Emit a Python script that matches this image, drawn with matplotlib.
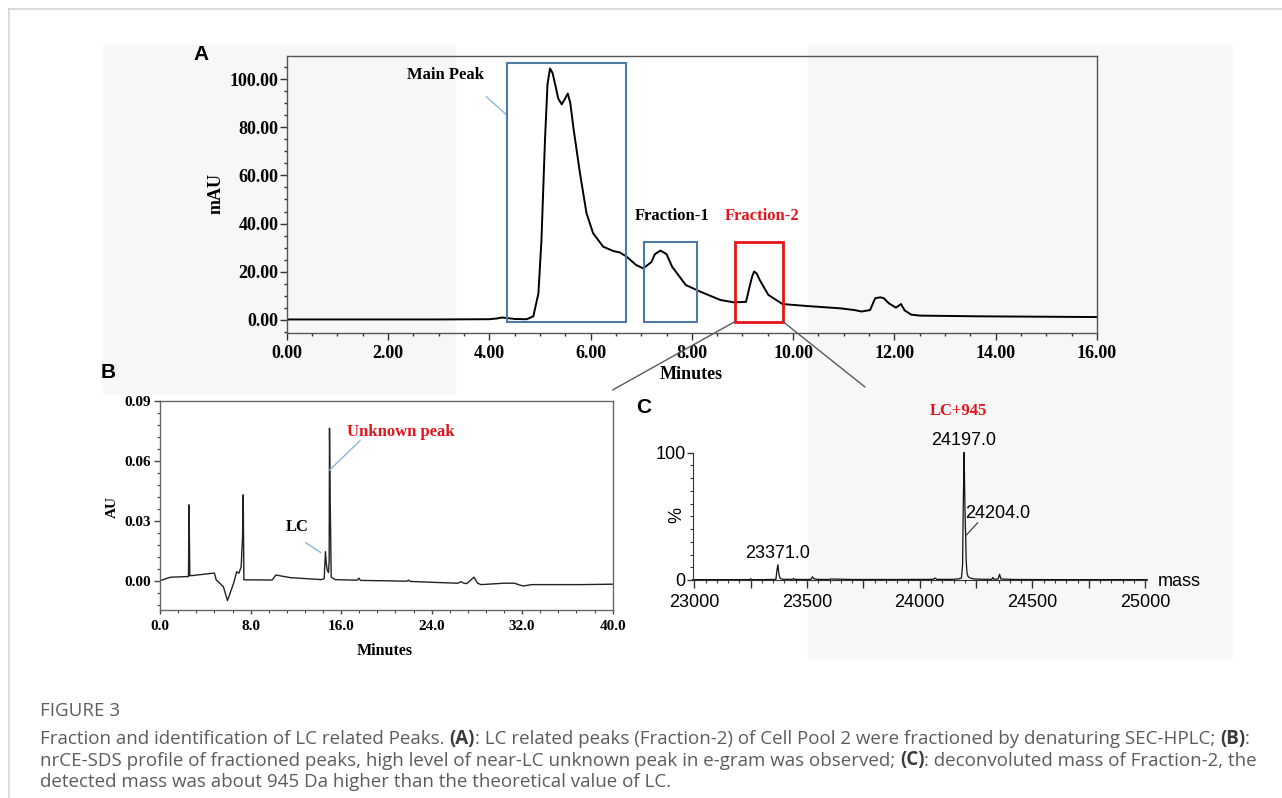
import matplotlib
matplotlib.use("Agg")
import matplotlib.pyplot as plt
from matplotlib.patches import Rectangle, ConnectionPatch
from matplotlib.lines import Line2D
from matplotlib.ticker import MultipleLocator

# ---- panel A : SEC-HPLC trace ----
a_minutes = [0.0, 1.0, 2.0, 3.0, 4.0, 4.15, 4.25, 4.35, 4.5, 4.74, 4.87, 4.97, 5.03, 5.10, 5.15,
             5.20, 5.25, 5.32, 5.36, 5.43, 5.50, 5.55, 5.60, 5.66, 5.79, 5.92, 6.05, 6.25, 6.45, 6.58,
             6.71, 6.90, 7.04, 7.20, 7.27, 7.38, 7.50, 7.61, 7.88, 8.16, 8.56, 8.83, 9.07, 9.14, 9.19,
             9.23, 9.28, 9.34, 9.51, 9.79, 10.26, 10.94, 11.21, 11.35, 11.52, 11.62, 11.72, 11.79,
             11.89, 12.03, 12.13, 12.20, 12.33, 12.50, 13.66, 15.97, 16.0]
a_mau = [0.2, 0.2, 0.2, 0.2, 0.3, 0.6, 1.0, 0.8, 0.4, 0.3, 1.5, 11.0, 33.0, 74.7, 98.0,
         104.4, 102.5, 96.0, 92.0, 89.5, 92.0, 94.0, 90.0, 80.0, 61.0, 44.3, 36.0, 30.4, 28.6, 28.0,
         26.3, 22.8, 21.4, 24.0, 27.3, 28.8, 27.3, 22.1, 14.5, 11.8, 8.3, 7.3, 7.5, 13.8, 18.0,
         20.1, 19.3, 16.6, 10.4, 6.6, 5.8, 4.8, 4.1, 3.5, 4.1, 9.0, 9.4, 9.0,
         6.9, 5.1, 6.6, 4.0, 2.2, 1.8, 1.5, 1.2, 1.2]
a_xticks = [0, 2, 4, 6, 8, 10, 12, 14, 16]
a_yticks = [0, 20, 40, 60, 80, 100]

box_names = ["Main Peak", "Fraction-1", "Fraction-2"]
box_start = [4.35, 7.06, 8.85]
box_end = [6.70, 8.11, 9.80]
box_top = [106.5, 32.5, 32.5]
box_bottom = -0.7

# ---- panel B : nrCE-SDS ----
b_minutes = [0.0, 0.9, 2.3, 2.50, 2.55, 2.62, 2.8, 4.65, 4.80, 4.95, 5.58, 5.95, 6.51, 6.76, 6.96,
             7.16, 7.28, 7.34, 7.40, 9.9, 10.23, 10.7, 11.5, 14.26, 14.5, 14.61, 14.70, 14.77, 14.88,
             14.94, 14.97, 15.03, 15.12, 15.48, 17.4, 17.57, 17.7, 20.1, 21.8, 21.95, 22.1, 24.77,
             26.32, 26.6, 26.8, 27.1, 27.75, 28.06, 28.37, 30.38, 31.3, 32.08, 32.86, 37.2, 40.0]
b_au = [0.0, 0.0017, 0.002, 0.002, 0.0379, 0.0025, 0.0025, 0.0037, 0.0037, 0.0004, -0.003, -0.010,
        -0.001, 0.0044, 0.0037, 0.007, 0.022, 0.0429, 0.0004, 0.0003, 0.0028, 0.0023, 0.0015, 0.0005,
        0.001, 0.0145, 0.008, 0.0053, 0.004, 0.010, 0.0762, 0.0405, 0.0017, 0.0005, 0.0002, 0.0012,
        0.0001, -0.0001, -0.0003, 0.0002, -0.0004, -0.001, -0.0013, -0.0005, -0.0012, -0.0015, 0.0017,
        -0.0013, -0.002, -0.0013, -0.0013, -0.0027, -0.002, -0.002, -0.0018]
b_xticks = [0, 8, 16, 24, 32, 40]
b_yticks = [0.0, 0.03, 0.06, 0.09]

# ---- panel C : deconvoluted mass ----
c_mass = [22993, 23100, 23200, 23245, 23250, 23255, 23300, 23362, 23367, 23371, 23375, 23380, 23390,
          23435, 23440, 23445, 23500, 23518, 23524, 23530, 23545, 23600, 23605, 23700, 23900, 24060,
          24068, 24076, 24140, 24170, 24185, 24190, 24194, 24197, 24200, 24202, 24204, 24206, 24210,
          24215, 24225, 24240, 24300, 24320, 24324, 24330, 24348, 24354, 24360, 24420, 24600, 24800,
          25008]
c_pct = [0.3, 0.3, 0.3, 0.3, 1.0, 0.3, 0.3, 0.5, 8, 12, 5, 1.5, 0.6,
         0.5, 1.2, 0.5, 0.4, 0.6, 2.5, 1.0, 0.5, 0.4, 0.8, 0.4, 0.4, 0.5,
         1.5, 0.5, 0.5, 0.8, 1.5, 12, 70, 100, 62, 45, 33, 15, 5,
         2.5, 1.5, 0.8, 0.5, 0.6, 2.0, 0.6, 0.8, 4.5, 0.8, 0.4, 0.3, 0.3,
         0.3]
c_xticks = list(range(23000, 25001, 250))

W, H = 1282, 798
plt.rcParams['font.family'] = 'Liberation Serif'
plt.rcParams['font.weight'] = 'bold'
SANS = 'Liberation Sans'
BLUE = '#4d7aa6'
LBLUE = '#8db6da'
RED = '#e3151b'

fig = plt.figure(figsize=(W / 100, H / 100), dpi=100)

def fx(x):
    return x / W

def fy(y):
    return 1 - y / H

# faint grey patches of the pasted images (behind everything)
for x0, y0, x1, y1 in [(103, 45, 455, 393), (808, 45, 1232, 658)]:
    fig.patches.append(Rectangle((fx(x0), fy(y1)), (x1 - x0) / W, (y1 - y0) / H,
                                 transform=fig.transFigure, color='#f7f7f7', zorder=-5))
fig.add_artist(Line2D([fx(9), 1], [fy(9), fy(9)], transform=fig.transFigure, color='#d4d4d4', lw=1.2))
fig.add_artist(Line2D([fx(9), fx(9)], [fy(9), 0], transform=fig.transFigure, color='#d4d4d4', lw=1.2))

# ---------------- A ----------------
axA = fig.add_axes([fx(286.7), fy(332.7), 810.3 / W, 277 / H])
axA.patch.set_alpha(0)
axA.plot(a_minutes, a_mau, color='black', lw=1.4)
axA.set_xlim(0, 16)
axA.set_ylim(-5.3, 109.7)
axA.set_xticks(a_xticks, labels=['%.2f' % v for v in a_xticks])
axA.set_yticks(a_yticks, labels=['%.2f' % v for v in a_yticks])
axA.xaxis.set_minor_locator(MultipleLocator(0.5))
axA.yaxis.set_minor_locator(MultipleLocator(5))
axA.tick_params(which='major', length=5, width=1, labelsize=13, color='#333333')
axA.tick_params(which='minor', length=2.5, width=1, color='#333333')
axA.tick_params(axis='x', pad=4)
axA.tick_params(axis='y', pad=1)
for s in axA.spines.values():
    s.set_color('#555555')
    s.set_linewidth(1)

for i in range(len(box_names)):
    col = RED if i == 2 else BLUE
    axA.add_patch(Rectangle((box_start[i], box_bottom), box_end[i] - box_start[i],
                            box_top[i] - box_bottom, fill=False, ec=col,
                            lw=2 if i == 2 else 1.5, zorder=3))
axA.text(3.14, 101.7, box_names[0], ha='center', va='center', fontsize=12)
axA.plot([3.94, box_start[0]], [92.7, 85.0], color=LBLUE, lw=1)
axA.text(7.61, 43.2, box_names[1], ha='center', va='center', fontsize=12)
axA.text(9.39, 43.2, box_names[2], ha='center', va='center', fontsize=12, color=RED)

fig.text(fx(691.6), fy(374.3), 'Minutes', ha='center', va='center', fontsize=13)
fig.text(fx(216), fy(193.3), 'mAU', ha='center', va='center', fontsize=13, rotation=90)

for xa, xb, yb in [(box_start[2], 612.6, 390), (box_end[2], 865, 387)]:
    con = ConnectionPatch(xyA=(xa, box_bottom), coordsA=axA.transData,
                          xyB=(xb, H - yb), coordsB='figure pixels',
                          color='#5a5a5a', lw=1)
    fig.add_artist(con)

# ---------------- B ----------------
axB = fig.add_axes([fx(160.2), fy(610), 452.4 / W, 209.3 / H])
axB.patch.set_alpha(0)
axB.plot(b_minutes, b_au, color='#222222', lw=1)
axB.set_xlim(0, 40)
axB.set_ylim(-0.0147, 0.09)
axB.set_xticks(b_xticks, labels=['%.1f' % v for v in b_xticks])
axB.set_yticks(b_yticks, labels=['%.2f' % v for v in b_yticks])
axB.xaxis.set_minor_locator(MultipleLocator(1.6))
axB.yaxis.set_minor_locator(MultipleLocator(0.006))
axB.tick_params(which='major', width=1, labelsize=11, color='#444444')
axB.tick_params(axis='x', which='major', length=3, pad=4)
axB.tick_params(axis='y', which='major', length=4.5, pad=2)
axB.tick_params(which='minor', length=2, width=0.8, color='#444444')
for s in axB.spines.values():
    s.set_color('#666666')
    s.set_linewidth(1)

axB.text(21.3, 0.0745, 'Unknown peak', ha='center', va='center', fontsize=12, color=RED)
axB.plot([17.67, 14.98], [0.070, 0.0553], color=LBLUE, lw=1)
axB.text(12.12, 0.027, 'LC', ha='center', va='center', fontsize=12)
axB.plot([12.86, 14.2], [0.019, 0.014], color=LBLUE, lw=1)

fig.text(fx(384.6), fy(650.7), 'Minutes', ha='center', va='center', fontsize=11.5)
fig.text(fx(112.8), fy(506.7), 'AU', ha='center', va='center', fontsize=11, rotation=90)

# ---------------- C ----------------
axC = fig.add_axes([fx(692.7), fy(580), 454.3 / W, 127.5 / H])
axC.patch.set_alpha(0)
axC.plot(c_mass, c_pct, color='#111111', lw=0.9, clip_on=False)
axC.set_xlim(22993, 25008)
axC.set_ylim(0, 100)
axC.spines['top'].set_visible(False)
axC.spines['right'].set_visible(False)
axC.set_xticks(c_xticks, labels=[str(v) if v % 500 == 0 else '' for v in c_xticks],
               fontfamily=SANS, fontweight='normal', fontsize=13)
axC.set_yticks([0, 100], labels=['0', '100'], fontfamily=SANS, fontweight='normal', fontsize=13)
axC.xaxis.set_minor_locator(MultipleLocator(50))
axC.yaxis.set_minor_locator(MultipleLocator(10))
axC.tick_params(which='major', width=1, color='#333333')
axC.tick_params(axis='x', which='major', length=6, pad=4)
axC.tick_params(axis='y', which='major', length=4, pad=1)
axC.tick_params(which='minor', length=2.5, width=0.8, color='#333333')
for s in axC.spines.values():
    s.set_color('#333333')

peak_txt = dict(ha='center', va='center', fontsize=13, fontfamily=SANS, fontweight='normal',
                clip_on=False)
axC.text(24195, 109.3, '%.1f' % 24197.0, **peak_txt)
axC.text(24346, 51.8, '%.1f' % 24204.0, **peak_txt)
axC.text(23371, 20.9, '%.1f' % 23371.0, **peak_txt)
axC.plot([24257, 24207], [44.9, 35.3], color='#333333', lw=0.8, clip_on=False)
axC.text(24173, 132.8, 'LC+945', ha='center', va='center', fontsize=12, color=RED, clip_on=False)
axC.text(-0.034, 0.51, '%', transform=axC.transAxes, rotation=90, ha='center', va='center',
         fontsize=13, fontfamily=SANS, fontweight='normal')
axC.text(1.0235, -0.01, 'mass', transform=axC.transAxes, ha='left', va='center',
         fontsize=13, fontfamily=SANS, fontweight='normal')

# panel letters
for letter, x, y in [('A', 201, 54), ('B', 108, 372.7), ('C', 643.7, 407.3)]:
    fig.text(fx(x), fy(y), letter, ha='center', va='center', fontsize=15,
             fontfamily=SANS, fontweight='bold')

# ---------------- caption ----------------
cap_lines = [
    [("Fraction and identification of LC related Peaks. ", False), ("(A)", True),
     (": LC related peaks (Fraction-2) of Cell Pool 2 were fractioned by denaturing SEC-HPLC; ", False),
     ("(B)", True), (":", False)],
    [("nrCE-SDS profile of fractioned peaks, high level of near-LC unknown peak in e-gram was observed; ", False),
     ("(C)", True), (": deconvoluted mass of Fraction-2, the", False)],
    [("detected mass was about 945 Da higher than the theoretical value of LC.", False)],
]
cap_y = [739, 760.5, 782]
renderer = fig.canvas.get_renderer()

def seg_kw(bold, size):
    return dict(fontfamily='Open Sans', fontsize=size,
                fontweight='bold' if bold else 'normal',
                color='#3a3a3a' if bold else '#5c5c5c')

def seg_width(txt, bold, size):
    p = fig.text(0, 0, txt + '|', **seg_kw(bold, size))
    q = fig.text(0, 0, '|', **seg_kw(bold, size))
    w = p.get_window_extent(renderer).width - q.get_window_extent(renderer).width
    p.remove()
    q.remove()
    return w

# pick the caption size so the first line runs to the right margin
line1_w = sum(seg_width(t, b, 11) for t, b in cap_lines[0])
cap_size = 11 * 1215 / line1_w

fig.text(fx(40), fy(711), 'FIGURE 3', ha='left', va='center', fontsize=cap_size,
         fontfamily='Open Sans', fontweight='normal', color='#5e5e5e')
for parts, y in zip(cap_lines, cap_y):
    x = 40
    for txt, bold in parts:
        fig.text(fx(x), fy(y), txt, ha='left', va='center', **seg_kw(bold, cap_size))
        x += seg_width(txt, bold, cap_size)

fig.savefig('out.png', dpi=100)
